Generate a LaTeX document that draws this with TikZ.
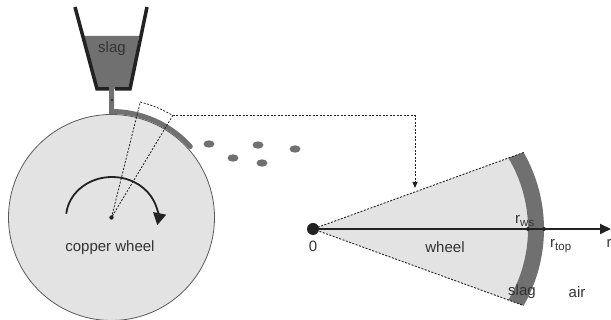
\documentclass[tikz,border=0pt]{standalone}
\usepackage{fontspec}
\setmainfont{Liberation Sans}
\usetikzlibrary{arrows.meta}
\definecolor{wheelgray}{HTML}{E3E3E3}
\definecolor{slaggray}{HTML}{707070}
\definecolor{rimgray}{HTML}{5A5A5A}
\definecolor{inkgray}{HTML}{222222}
\newcommand{\radsub}[1]{r\raisebox{-3.5pt}{\fontsize{11.5}{13}\selectfont #1}}
\tikzset{
	label text/.style={font=\fontsize{15}{18}\selectfont, text=black!80, inner sep=0pt},
	guide/.style={dash pattern=on 2pt off 1.5pt, line width=0.9pt, draw=inkgray},
	droplet/.style={fill=slaggray, draw=none},
}
\begin{document}
\begin{tikzpicture}[x=1pt, y=1pt, >={Triangle[length=6pt,width=5pt]}]
	\useasboundingbox (0,0) rectangle (611,320);
	\begin{scope}
		\coordinate (hub) at (111.5,102.5);
		\filldraw[fill=wheelgray, draw=rimgray, line width=0.8pt] (hub) circle (103);

		\fill[slaggray] (83,284) -- (139,284) -- (130,231) -- (97,231) -- cycle;
		\draw[inkgray, line width=3.5pt, line join=miter] (75,313) -- (97,231) -- (109,231);
		\draw[inkgray, line width=3.5pt, line join=miter] (115,231) -- (130,231) -- (147,313);
		\node[label text] (hopperslag) at (112,271) {slag};

		\draw[slaggray, line width=5pt, line cap=round] (111.5,232) -- (111.5,208.5)
			arc[start angle=90, end angle=42, radius=106];
		\fill[inkgray] (112,220) circle (1.1);

		\draw[guide, line width=0.8pt] (hub) -- ++(76:119)
			arc[start angle=76, end angle=59, radius=119] coordinate (wedge) -- cycle;
		\fill[inkgray] (hub) circle (2.2);

		\draw[line width=1.8pt, inkgray, -{Triangle[length=12pt,width=13pt]}]
			(112,102) ++(174:46 and 41) arc[start angle=174, end angle=-10, x radius=46, y radius=41];
		\node[label text] (copper) at (110,72) {copper wheel};

		\foreach \dx/\dy in {209/176, 233/162, 258/175, 262/157, 295/171}
			\fill[droplet] (\dx,\dy) ellipse (5.5 and 3.7);
	\end{scope}

	\begin{scope}[shift={(313,91)}]
		\coordinate (origin) at (0,0);
		\fill[wheelgray] (origin) -- ([shift={(77,0)}]31:138)
			arc[start angle=31, end angle=-31, radius=138] -- cycle;
		\fill[slaggray] ([shift={(77,0)}]31:138) arc[start angle=31, end angle=-31, radius=138]
			-- ([shift={(77,0)}]-29.8:154) arc[start angle=-29.8, end angle=29.8, radius=154] -- cycle;
		\draw[guide] ([shift={(77,0)}]29.8:154) -- (origin) -- ([shift={(77,0)}]-29.8:154);
		\draw[line width=1.8pt, inkgray, -{Triangle[length=11pt,width=10pt]}] (origin) -- (298,0);
		\fill[inkgray] (origin) circle (6);
		\fill[inkgray] (215,0) circle (2) (231,0) circle (2);

		\node[label text] (zero) at (0,-17) {0};
		\node[label text] (wheel) at (132,-18) {wheel};
		\node[label text, anchor=south west] (rws) at (202,2) {\radsub{ws}};
		\node[label text, anchor=north west] (rtop) at (237,-10) {\radsub{top}};
		\node[label text] (slag) at (209,-63) {slag};
		\node[label text] (air) at (264,-63) {air};
		\node[label text] (raxis) at (296,-14) {r};
	\end{scope}

	\coordinate (fanedge) at (415,132);
	\draw[guide, ->] (wedge) -| (fanedge);
\end{tikzpicture}
\end{document}
